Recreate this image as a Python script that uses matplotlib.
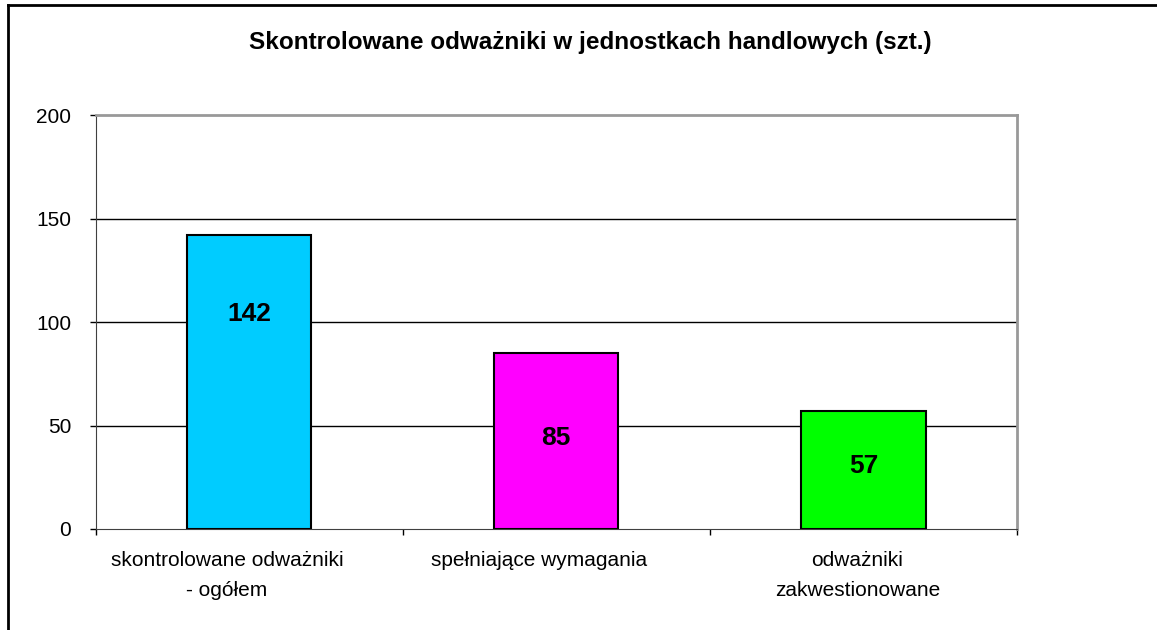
import matplotlib.pyplot as plt
from matplotlib.lines import Line2D
from matplotlib.transforms import ScaledTranslation

plt.rcParams['font.family'] = ['Liberation Sans', 'DejaVu Sans']

categories = ['skontrolowane odważniki\n- ogółem', 'spełniające wymagania',
              'odważniki\nzakwestionowane']
values = [142, 85, 57]
colors = ['#00CCFF', '#FF00FF', '#00FF00']
label_frac = [0.73, 0.52, 0.53]  # where the value label sits within each bar
label_shift = [-22, -17, -6]     # category labels sit a bit left of centre (px)

fig = plt.figure(figsize=(11.57, 6.30), dpi=100)
ax = fig.add_axes([95.5 / 1157, 1 - 529 / 630, (1017 - 95.5) / 1157, (529 - 115) / 630])

x = range(len(values))
ax.bar(x, values, width=0.405, color=colors, edgecolor='black', linewidth=1.5, zorder=3)

for i, v in enumerate(values):
    ax.text(i, v * label_frac[i], str(v), ha='center', va='center',
            fontsize=19, fontweight='bold', zorder=4)

ax.set_xlim(-0.5, 2.5)
ax.set_ylim(0, 200)
ax.set_yticks([0, 50, 100, 150, 200])
ax.tick_params(axis='y', direction='out', length=4.5, width=1, labelsize=15, pad=13)
ax.set_xticks([-0.5, 0.5, 1.5, 2.5], minor=True)
ax.set_xticks(list(x))
ax.set_xticklabels(categories, fontsize=15, linespacing=1.75)
ax.tick_params(axis='x', which='major', length=0, pad=16)
ax.tick_params(axis='x', which='minor', direction='out', length=4.5, width=1)

for lbl, dx in zip(ax.get_xticklabels(), label_shift):
    lbl.set_transform(lbl.get_transform() + ScaledTranslation(dx / 100, 0, fig.dpi_scale_trans))

for yv in [50, 100, 150]:
    ax.axhline(yv, color='black', linewidth=1, zorder=1)

ax.spines['left'].set_color('#404040')
ax.spines['bottom'].set_color('#404040')
ax.spines['top'].set_color('#999999')
ax.spines['right'].set_color('#999999')
ax.spines['top'].set_linewidth(2)
ax.spines['right'].set_linewidth(2)

fig.text(590 / 1157, 1 - 42 / 630, 'Skontrolowane odważniki w jednostkach handlowych (szt.)',
         ha='center', va='center', fontsize=17.5, fontweight='bold')

# outer frame of the chart object
fig.add_artist(Line2D([8 / 1157, 8 / 1157], [0, 1 - 5 / 630], color='black', linewidth=2,
                      transform=fig.transFigure))
fig.add_artist(Line2D([8 / 1157, 1], [1 - 5 / 630, 1 - 5 / 630], color='black', linewidth=2,
                      transform=fig.transFigure))

fig.savefig('out.png', dpi=100)
